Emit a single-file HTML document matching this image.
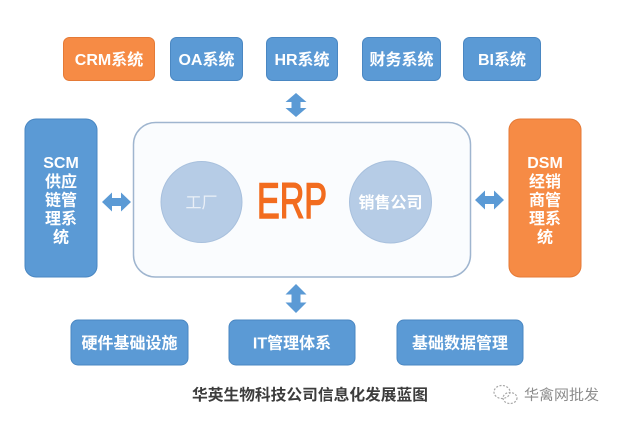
<!DOCTYPE html>
<html>
<head>
<meta charset="utf-8">
<style>
  html,body{margin:0;padding:0;background:#fff;}
  body{width:619px;height:422px;overflow:hidden;}
  svg{display:block;}
  .t{font-family:"Liberation Sans","Noto Sans CJK SC",sans-serif;fill:#fff;font-weight:bold;font-size:16px;text-anchor:middle;}
</style>
</head>
<body>
<svg width="619" height="422" viewBox="0 0 619 422" xmlns="http://www.w3.org/2000/svg">
  <rect x="0" y="0" width="619" height="422" fill="#ffffff"/>

  <!-- top row -->
  <rect x="63.5" y="37.5" width="91" height="43" rx="6" fill="#f68b45" stroke="#e57a36" stroke-width="1"/>
  <rect x="170.5" y="37.5" width="72" height="43" rx="6" fill="#5b9ad5" stroke="#4a87c2" stroke-width="1"/>
  <rect x="266.5" y="37.5" width="71" height="43" rx="6" fill="#5b9ad5" stroke="#4a87c2" stroke-width="1"/>
  <rect x="362.5" y="37.5" width="78" height="43" rx="6" fill="#5b9ad5" stroke="#4a87c2" stroke-width="1"/>
  <rect x="463.5" y="37.5" width="77" height="43" rx="6" fill="#5b9ad5" stroke="#4a87c2" stroke-width="1"/>
  <text class="t" x="109" y="65">CRM系统</text>
  <text class="t" x="206.5" y="65">OA系统</text>
  <text class="t" x="302" y="65">HR系统</text>
  <text class="t" x="401.5" y="65">财务系统</text>
  <text class="t" x="502" y="65">BI系统</text>

  <!-- vertical arrows -->
  <polygon points="296,93 306.5,102 300.5,102 300.5,108 306.5,108 296,117 285.5,108 291.5,108 291.5,102 285.5,102" fill="#5b9ad5"/>
  <polygon points="296,284 306.5,294.5 300.5,294.5 300.5,302.5 306.5,302.5 296,313 285.5,302.5 291.5,302.5 291.5,294.5 285.5,294.5" fill="#5b9ad5"/>

  <!-- horizontal arrows -->
  <polygon points="102,202 112,192.5 112,198 121,198 121,192.5 131,202 121,211.5 121,206 112,206 112,211.5" fill="#5b9ad5"/>
  <polygon points="475,200 485,190.5 485,196 494,196 494,190.5 504,200 494,209.5 494,204 485,204 485,209.5" fill="#5b9ad5"/>

  <!-- side boxes -->
  <rect x="25" y="119" width="72" height="158" rx="11" fill="#5b9ad5" stroke="#4a87c2" stroke-width="1"/>
  <rect x="509" y="119" width="72" height="158" rx="11" fill="#f68b45" stroke="#e57a36" stroke-width="1"/>
  <text class="t" x="61" y="168">SCM</text>
  <text class="t" x="61" y="187">供应</text>
  <text class="t" x="61" y="205.5">链管</text>
  <text class="t" x="61" y="224">理系</text>
  <text class="t" x="61" y="242.5">统</text>
  <text class="t" x="545" y="168">DSM</text>
  <text class="t" x="545" y="187">经销</text>
  <text class="t" x="545" y="205.5">商管</text>
  <text class="t" x="545" y="224">理系</text>
  <text class="t" x="545" y="242.5">统</text>

  <!-- ERP container -->
  <rect x="133.5" y="122.5" width="337" height="154.5" rx="22" fill="#fafcfe" stroke="#9fb5cf" stroke-width="1.5"/>
  <circle cx="201.5" cy="202" r="40.5" fill="#b6cce6" stroke="#a8c0dd" stroke-width="1"/>
  <circle cx="390.5" cy="202" r="41" fill="#b6cce6" stroke="#a8c0dd" stroke-width="1"/>
  <text x="201.5" y="208" style="font-family:'Liberation Sans','Noto Sans CJK SC',sans-serif;font-size:16px;fill:#e9eff7;text-anchor:middle;">工厂</text>
  <text class="t" x="390.5" y="208">销售公司</text>
  <text x="257" y="218" textLength="70" lengthAdjust="spacingAndGlyphs" stroke="#f26c1f" stroke-width="1.6" style="font-family:'Liberation Sans',sans-serif;font-size:50px;fill:#f26c1f;">ERP</text>

  <!-- bottom row -->
  <rect x="71" y="320" width="117" height="45" rx="7" fill="#5b9ad5" stroke="#4a87c2" stroke-width="1"/>
  <rect x="229" y="320" width="126" height="45" rx="7" fill="#5b9ad5" stroke="#4a87c2" stroke-width="1"/>
  <rect x="397" y="320" width="126" height="45" rx="7" fill="#5b9ad5" stroke="#4a87c2" stroke-width="1"/>
  <text class="t" x="129.5" y="348.5">硬件基础设施</text>
  <text class="t" x="292" y="348.5">IT管理体系</text>
  <text class="t" x="460" y="348.5">基础数据管理</text>

  <!-- caption -->
  <text x="192" y="400" textLength="236" lengthAdjust="spacingAndGlyphs" style="font-family:'Liberation Sans','Noto Sans CJK SC',sans-serif;font-size:15.5px;font-weight:bold;fill:#3c3c3c;">华英生物科技公司信息化发展蓝图</text>

  <!-- wechat mark -->
  <g fill="none" stroke="#a8a8a8" stroke-width="1.2" stroke-dasharray="2 1.5">
    <ellipse cx="502" cy="392" rx="8" ry="6.5"/>
    <ellipse cx="510" cy="398" rx="7" ry="5.5"/>
  </g>
  <text x="524" y="400" textLength="75" lengthAdjust="spacingAndGlyphs" style="font-family:'Liberation Sans','Noto Sans CJK SC',sans-serif;font-size:14.5px;fill:#8c8c8c;">华禽网批发</text>
</svg>
</body>
</html>
